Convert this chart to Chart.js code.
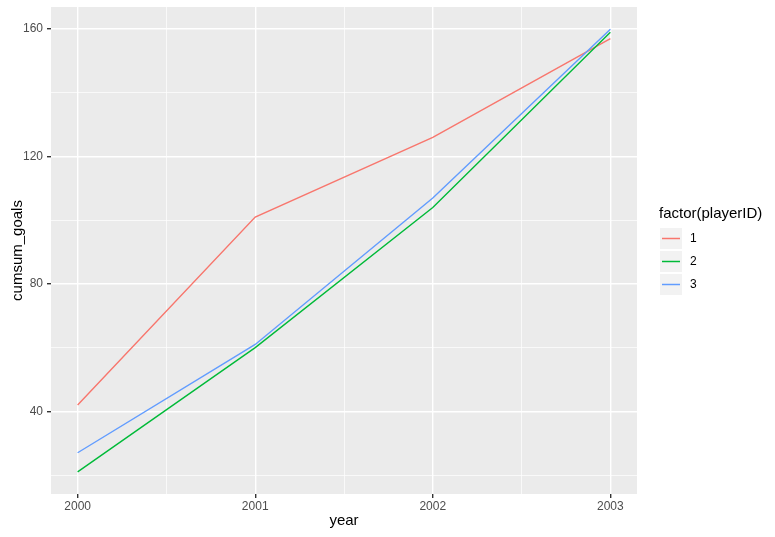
<!DOCTYPE html>
<html lang="en">
<head>
    <meta charset="UTF-8">
    <title>cumsum_goals by year</title>
    <script src="https://cdn.jsdelivr.net/npm/chart.js"></script>
    <style>
        body {
          margin: 0;
          padding: 0;
          background: #fff;
        }
        canvas {
          display: block;
        }
    </style>
</head>
<body>
<canvas id="goalsChart" width="775" height="537"></canvas>

<script>
    // data
    const years = [2000, 2001, 2002, 2003];
    const player1 = [42, 101, 126, 157];
    const player2 = [21, 60, 104, 159];
    const player3 = [27, 61, 107, 160];

    const playerIds = ['1', '2', '3'];
    const colours = ['#F8766D', '#00BA38', '#619CFF'];

    const xMajor = [2000, 2001, 2002, 2003];
    const xMinor = [2000.5, 2001.5, 2002.5];
    const yMajor = [40, 80, 120, 160];
    const yMinor = [20, 60, 100, 140];

    const FONT = "'Liberation Sans', Arial, sans-serif";

    function series(vals) {
      return years.map((y, i) => ({x: y, y: vals[i]}));
    }

    // grey panel behind the grid
    const panelBg = {
      id: 'panelBg',
      beforeDraw(chart) {
        const a = chart.chartArea, c = chart.ctx;
        c.save();
        c.fillStyle = '#ebebeb';
        c.fillRect(a.left, a.top, a.right - a.left, a.bottom - a.top);
        c.restore();
      }
    };

    // axis titles + legend, ggplot style
    const decorations = {
      id: 'decorations',
      afterDraw(chart) {
        const a = chart.chartArea, c = chart.ctx;
        c.save();
        c.fillStyle = '#000';
        c.font = '15px ' + FONT;
        c.textAlign = 'center';
        c.textBaseline = 'middle';
        c.fillText('year', (a.left + a.right) / 2, 521);

        c.save();
        c.translate(18, (a.top + a.bottom) / 2);
        c.rotate(-Math.PI / 2);
        c.fillText('cumsum_goals', 0, 0);
        c.restore();

        // legend
        c.textAlign = 'left';
        c.textBaseline = 'alphabetic';
        c.fillText('factor(playerID)', 659, 218);

        c.font = '12px ' + FONT;
        c.textBaseline = 'middle';
        playerIds.forEach((id, i) => {
          const top = 228 + i * 23;
          c.fillStyle = '#f2f2f2';
          c.fillRect(660, top, 22, 21);
          c.strokeStyle = colours[i];
          c.lineWidth = 1.5;
          c.beginPath();
          c.moveTo(662, top + 10.5);
          c.lineTo(680, top + 10.5);
          c.stroke();
          c.fillStyle = '#000';
          c.fillText(id, 690, top + 11);
        });
        c.restore();
      }
    };

    const isMajor = (list, v) => list.some(m => Math.abs(m - v) < 1e-6);

    new Chart(document.getElementById('goalsChart'), {
      type: 'line',
      data: {
        datasets: [
          {label: '1', data: series(player1), borderColor: colours[0], order: 3},
          {label: '2', data: series(player2), borderColor: colours[1], order: 2},
          {label: '3', data: series(player3), borderColor: colours[2], order: 1}
        ]
      },
      options: {
        responsive: false,
        animation: false,
        layout: {padding: {left: 0, top: 7, right: 138, bottom: 0}},
        elements: {
          line: {borderWidth: 1.4, tension: 0, fill: false},
          point: {radius: 0, hoverRadius: 0}
        },
        plugins: {
          legend: {display: false},
          tooltip: {enabled: false}
        },
        scales: {
          x: {
            type: 'linear',
            min: 1999.85,
            max: 2003.15,
            afterBuildTicks: s => {
              s.ticks = xMajor.concat(xMinor).sort().map(v => ({value: v}));
            },
            afterFit: s => {
              s.height = 43;
              s.paddingLeft = 0;
              s.paddingRight = 0;
            },
            ticks: {
              autoSkip: false,
              maxRotation: 0,
              padding: 1,
              color: '#4d4d4d',
              font: {family: FONT, size: 12},
              callback: v => isMajor(xMajor, v) ? String(v) : ''
            },
            grid: {
              color: '#ffffff',
              lineWidth: ctx => isMajor(xMajor, ctx.tick.value) ? 1.4 : 0.7,
              tickColor: ctx => isMajor(xMajor, ctx.tick.value) ? '#333333' : 'rgba(0,0,0,0)',
              tickLength: 4
            },
            border: {display: false}
          },
          y: {
            min: 14.05,
            max: 166.95,
            afterBuildTicks: s => {
              s.ticks = yMajor.concat(yMinor).sort((p, q) => p - q).map(v => ({value: v}));
            },
            afterFit: s => {
              s.width = 51;
              s.paddingTop = 0;
              s.paddingBottom = 0;
            },
            ticks: {
              autoSkip: false,
              padding: 4,
              color: '#4d4d4d',
              font: {family: FONT, size: 12},
              callback: v => isMajor(yMajor, v) ? String(v) : ''
            },
            grid: {
              color: '#ffffff',
              lineWidth: ctx => isMajor(yMajor, ctx.tick.value) ? 1.4 : 0.7,
              tickColor: ctx => isMajor(yMajor, ctx.tick.value) ? '#333333' : 'rgba(0,0,0,0)',
              tickLength: 4
            },
            border: {display: false}
          }
        }
      },
      plugins: [panelBg, decorations]
    });
</script>
</body>
</html>
